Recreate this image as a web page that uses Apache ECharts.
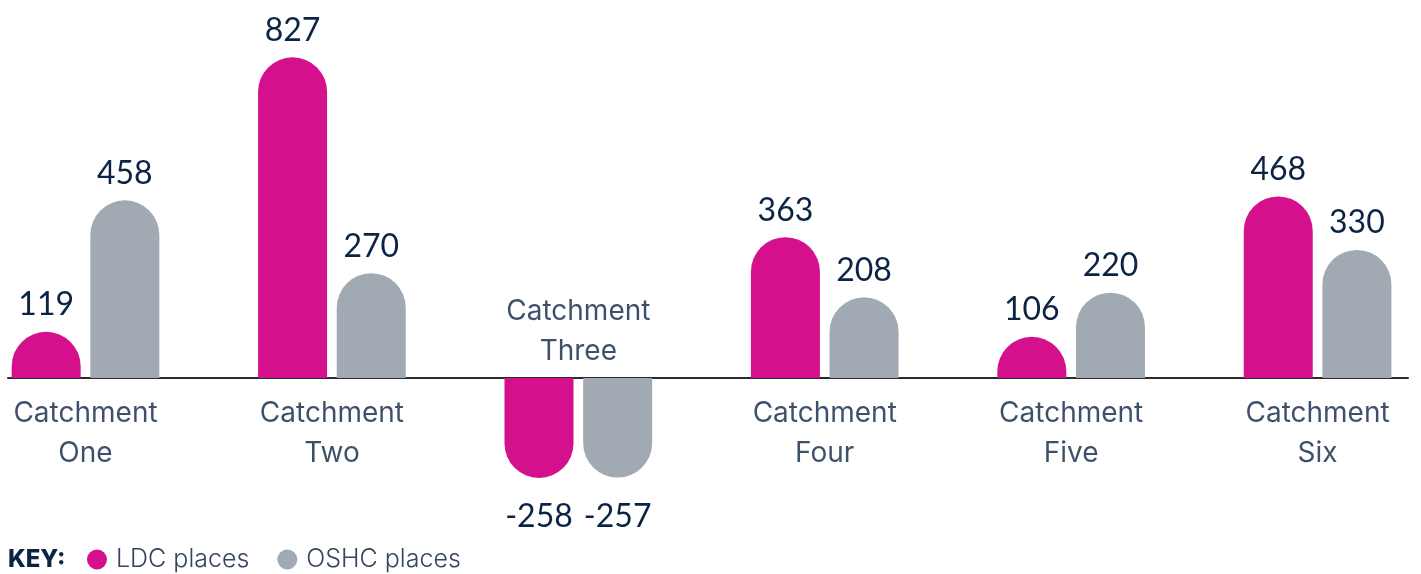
<!DOCTYPE html>
<html>
<head>
<meta charset="utf-8">
<script src="https://cdn.jsdelivr.net/npm/echarts@6/dist/echarts.min.js"></script>
<style>
  html, body { margin: 0; padding: 0; background: #fff; }
  #chart { width: 1421px; height: 574px; }
</style>
</head>
<body>
<div id="chart"></div>
<script>
// data
var categories = ['Catchment\nOne', 'Catchment\nTwo', 'Catchment\nThree', 'Catchment\nFour', 'Catchment\nFive', 'Catchment\nSix'];
var ldcPlaces = [119, 827, -258, 363, 106, 468];
var oshcPlaces = [458, 270, -257, 208, 220, 330];

var navy = '#0c2444';
var magenta = '#d4108c';
var grey = '#a1aab2';
var numFont = 'Lato, "Noto Sans", sans-serif';
var textFont = 'Inter, "Noto Sans", sans-serif';

// bar items: round the end away from the axis
function barItems(values) {
    return values.map(function (v, i) {
        var neg = v < 0;
        return {
            value: [i, v],
            itemStyle: { borderRadius: neg ? [0, 0, 34.5, 34.5] : [34.5, 34.5, 0, 0] },
            label: { position: neg ? 'bottom' : 'top', distance: neg ? 23 : 11 }
        };
    });
}

// category names sit under the axis, or above it when the group is negative
var catItems = categories.map(function (c, i) {
    var neg = ldcPlaces[i] < 0 && oshcPlaces[i] < 0;
    return {
        value: [i, 0],
        label: { position: neg ? 'top' : 'bottom', distance: neg ? 6 : 16 }
    };
});

var valueLabel = {
    show: true,
    color: navy,
    fontFamily: numFont,
    fontSize: 32,
    formatter: function (p) { return p.value[1]; }
};

var chart = echarts.init(document.getElementById('chart'));
chart.setOption({
    animation: false,
    title: {
        text: 'KEY:',
        left: 8,
        top: 548,
        padding: 0,
        textStyle: { color: navy, fontFamily: textFont, fontWeight: 800, fontSize: 24 }
    },
    legend: {
        data: ['LDC places', 'OSHC places'],
        left: 87,
        top: 547,
        padding: 0,
        icon: 'circle',
        itemWidth: 20,
        itemHeight: 20,
        itemGap: 28,
        textStyle: { color: '#34445f', fontFamily: textFont, fontSize: 25, fontWeight: 300, padding: [0, 0, 0, 4] }
    },
    grid: { left: 8, right: 13, top: 29, bottom: 41 },
    xAxis: {
        type: 'value',
        min: -0.3145,
        max: 5.367,
        axisLine: { show: true, onZero: true, lineStyle: { color: '#2a2a2a', width: 2 } },
        axisTick: { show: false },
        axisLabel: { show: false },
        splitLine: { show: false }
    },
    yAxis: {
        type: 'value',
        min: -400,
        max: 900,
        show: false,
        splitLine: { show: false }
    },
    series: [
        {
            name: 'LDC places',
            type: 'bar',
            barWidth: 69,
            barGap: '14%',
            color: magenta,
            data: barItems(ldcPlaces),
            label: valueLabel
        },
        {
            name: 'OSHC places',
            type: 'bar',
            barWidth: 69,
            barGap: '14%',
            color: grey,
            data: barItems(oshcPlaces),
            label: valueLabel
        },
        {
            name: 'categories',
            type: 'scatter',
            symbolSize: 0,
            silent: true,
            data: catItems,
            label: {
                show: true,
                color: navy,
                fontFamily: textFont,
                fontSize: 28,
                lineHeight: 40,
                align: 'center',
                formatter: function (p) { return categories[p.dataIndex]; }
            }
        }
    ]
});
</script>
</body>
</html>
